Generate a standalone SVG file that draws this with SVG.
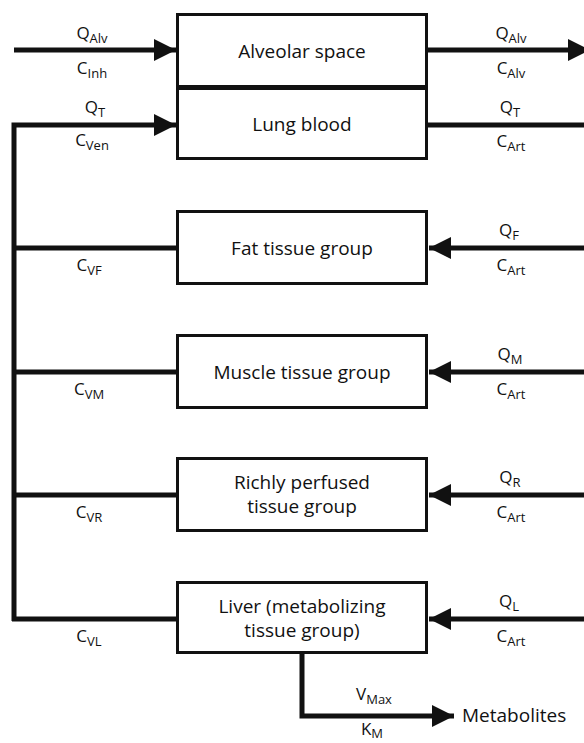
<svg xmlns="http://www.w3.org/2000/svg" width="584" height="743" viewBox="0 0 584 743">
  <style>
    .box { fill: #fff; stroke: #111; stroke-width: 3; }
    .flow { fill: none; stroke: #111; stroke-width: 5; }
    .t { font-family: "Open Sans", "Liberation Sans", sans-serif; font-size: 19px; fill: #111; text-anchor: middle; }
    .out { font-family: "Open Sans", "Liberation Sans", sans-serif; font-size: 19px; fill: #111; text-anchor: start; }
    .l { font-family: "Open Sans", "Liberation Sans", sans-serif; font-size: 17px; fill: #111; text-anchor: middle; }
    .s { font-size: 13px; }
  </style>
  <defs>
    <marker id="head" viewBox="0 0 22 22" refX="22" refY="11" markerWidth="22" markerHeight="22" markerUnits="userSpaceOnUse" orient="auto">
      <path d="M0,0 L22,11 L0,22 Z" fill="#111"/>
    </marker>
  </defs>

  <!-- flows between compartments -->
  <g id="connectors">
    <line class="flow" x1="14" y1="50" x2="176" y2="50" marker-end="url(#head)"/>
    <line class="flow" x1="428" y1="50" x2="590" y2="50" marker-end="url(#head)"/>
    <polyline class="flow" points="14,621 14,125 176,125" marker-end="url(#head)"/>
    <line class="flow" x1="428" y1="125" x2="584" y2="125"/>
    <line class="flow" x1="14" y1="248" x2="176" y2="248"/>
    <line class="flow" x1="14" y1="372" x2="176" y2="372"/>
    <line class="flow" x1="14" y1="495" x2="176" y2="495"/>
    <line class="flow" x1="12" y1="619" x2="176" y2="619"/>
    <line class="flow" x1="584" y1="248" x2="429" y2="248" marker-end="url(#head)"/>
    <line class="flow" x1="584" y1="372" x2="429" y2="372" marker-end="url(#head)"/>
    <line class="flow" x1="584" y1="495" x2="429" y2="495" marker-end="url(#head)"/>
    <line class="flow" x1="584" y1="619" x2="429" y2="619" marker-end="url(#head)"/>
    <polyline class="flow" points="302,653 302,716 454,716" marker-end="url(#head)"/>
  </g>

  <!-- flow labels -->
  <g id="labels">
    <text class="l" x="92" y="39">Q<tspan class="s" dy="4">Alv</tspan></text>
    <text class="l" x="92" y="74">C<tspan class="s" dy="4">Inh</tspan></text>
    <text class="l" x="511" y="39">Q<tspan class="s" dy="4">Alv</tspan></text>
    <text class="l" x="511" y="74">C<tspan class="s" dy="4">Alv</tspan></text>
    <text class="l" x="95" y="113">Q<tspan class="s" dy="4">T</tspan></text>
    <text class="l" x="92" y="146">C<tspan class="s" dy="4">Ven</tspan></text>
    <text class="l" x="510" y="113">Q<tspan class="s" dy="4">T</tspan></text>
    <text class="l" x="511" y="147">C<tspan class="s" dy="4">Art</tspan></text>
    <text class="l" x="89" y="271">C<tspan class="s" dy="4">VF</tspan></text>
    <text class="l" x="509" y="236">Q<tspan class="s" dy="4">F</tspan></text>
    <text class="l" x="511" y="271">C<tspan class="s" dy="4">Art</tspan></text>
    <text class="l" x="89" y="395">C<tspan class="s" dy="4">VM</tspan></text>
    <text class="l" x="510" y="360">Q<tspan class="s" dy="4">M</tspan></text>
    <text class="l" x="511" y="395">C<tspan class="s" dy="4">Art</tspan></text>
    <text class="l" x="89" y="518">C<tspan class="s" dy="4">VR</tspan></text>
    <text class="l" x="510" y="483">Q<tspan class="s" dy="4">R</tspan></text>
    <text class="l" x="511" y="518">C<tspan class="s" dy="4">Art</tspan></text>
    <text class="l" x="89" y="642">C<tspan class="s" dy="4">VL</tspan></text>
    <text class="l" x="509" y="607">Q<tspan class="s" dy="4">L</tspan></text>
    <text class="l" x="511" y="642">C<tspan class="s" dy="4">Art</tspan></text>
    <text class="l" x="374" y="700">V<tspan class="s" dy="4">Max</tspan></text>
    <text class="l" x="372" y="735">K<tspan class="s" dy="3">M</tspan></text>
    <text class="out" x="462" y="722">Metabolites</text>
  </g>

  <!-- compartments -->
  <g id="alveolar-space">
    <rect class="box" x="177.5" y="14.5" width="249" height="72"/>
    <text class="t" x="302" y="58">Alveolar space</text>
  </g>
  <g id="lung-blood">
    <rect class="box" x="177.5" y="88.5" width="249" height="70"/>
    <text class="t" x="302" y="131">Lung blood</text>
  </g>
  <g id="fat">
    <rect class="box" x="177.5" y="211.5" width="249" height="72"/>
    <text class="t" x="302" y="255">Fat tissue group</text>
  </g>
  <g id="muscle">
    <rect class="box" x="177.5" y="335.5" width="249" height="72"/>
    <text class="t" x="302" y="379">Muscle tissue group</text>
  </g>
  <g id="richly-perfused">
    <rect class="box" x="177.5" y="458.5" width="249" height="72"/>
    <text class="t" x="302" y="489">Richly perfused</text>
    <text class="t" x="302" y="513">tissue group</text>
  </g>
  <g id="liver">
    <rect class="box" x="177.5" y="582.5" width="249" height="70"/>
    <text class="t" x="302" y="613">Liver (metabolizing</text>
    <text class="t" x="302" y="637">tissue group)</text>
  </g>
</svg>
